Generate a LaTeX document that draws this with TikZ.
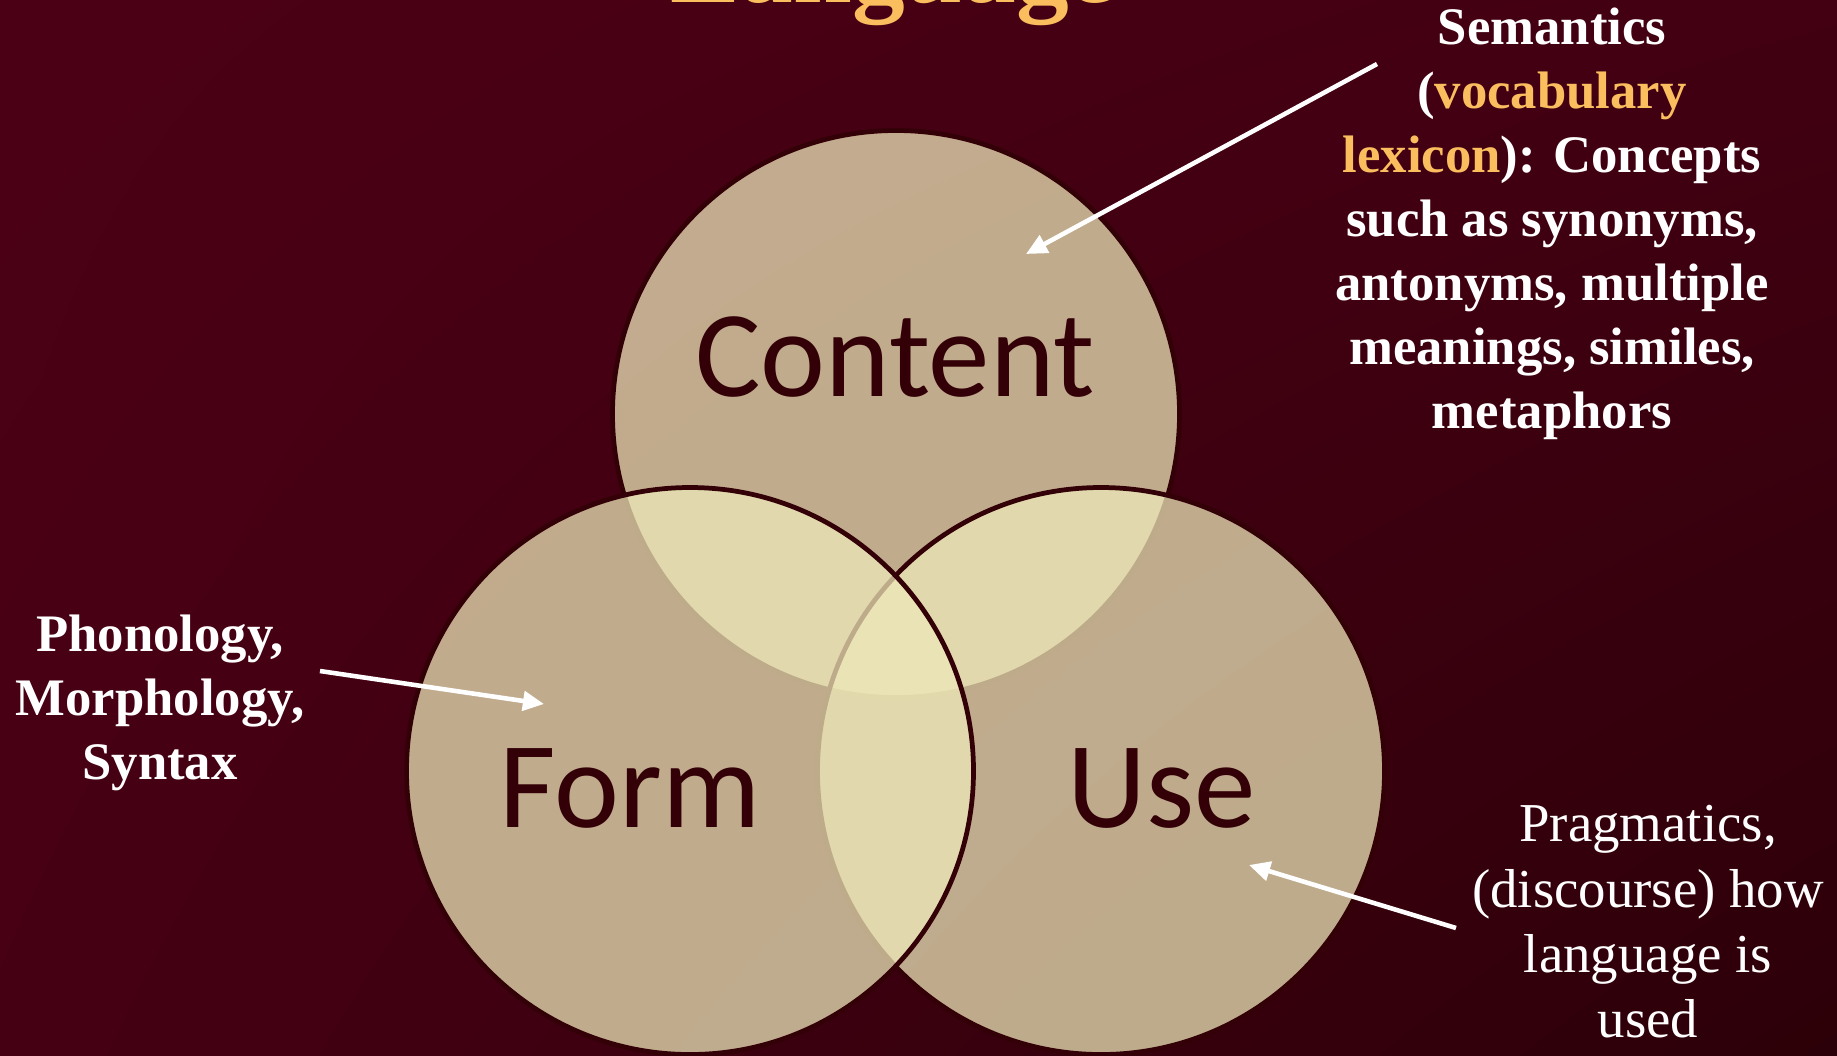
\documentclass[tikz,border=0pt]{standalone}
\usepackage{fontspec}
\setmainfont{Liberation Serif}
\newfontfamily\calibri{Carlito}
\usepackage{tikz}
\usetikzlibrary{arrows.meta,shadings}

\definecolor{bgtl}{RGB}{76,0,21}
\definecolor{bgtr}{RGB}{66,0,18}
\definecolor{bgbl}{RGB}{70,0,20}
\definecolor{bgbr}{RGB}{44,0,8}
\definecolor{ringfill}{RGB}{238,232,185}
\definecolor{ringline}{RGB}{50,0,6}
\definecolor{gold}{RGB}{250,190,95}

\tikzset{
  ring/.style={fill=ringfill, fill opacity=0.74, draw=ringline, line width=1.35pt},
  bigword/.style={font=\calibri\fontsize{35}{40}\selectfont, text=ringline, inner sep=0pt},
  note/.style={font=\bfseries\fontsize{15}{18.2}\selectfont, text=white, align=center, inner sep=0pt},
  pointer/.style={draw=white, line width=1.3pt, -{Triangle[length=6pt,width=5.5pt]}}
}

\begin{document}
\begin{tikzpicture}[x=0.1mm, y=-0.1mm]
   \clip (0,0) rectangle (1837,1055);
   \shade[upper left=bgtl, upper right=bgtr, lower left=bgbl, lower right=bgbr]
     (0,0) rectangle (1837,1055);

   % title, only its lower part fits on the page
   \node[font=\bfseries\fontsize{30}{36}\selectfont, text=gold, anchor=base, inner sep=0pt]
     (title) at (893,2) {Language};

   % the three rings: content first, then use, then form on top
   \draw[ring] (896,414) circle (283.5);
   \draw[ring] (1101,771) circle (283.5);
   \draw[ring] (690,771) circle (283.5);

   \node[bigword, anchor=base] (content) at (895,396) {Content};
   \node[bigword, anchor=base] (form) at (630,827) {Form};
   \node[bigword, anchor=base] (use) at (1162,827) {Use};

   % side notes
   \node[note] (semantics) at (1552,224)
     {Semantics\\({\color{gold}vocabulary}\\{\color{gold}lexicon}): Concepts\\such as synonyms,\\antonyms, multiple\\meanings, similes,\\metaphors};
   \node[note] (phonology) at (160,703) {Phonology,\\Morphology,\\Syntax};
   \node[note, font=\fontsize{15.6}{18.6}\selectfont] (pragmatics) at (1648,922)
     {Pragmatics,\\(discourse) how\\language is\\used};

   \coordinate (semtail) at (1377,64);
   \coordinate (semhead) at (1026,254);
   \coordinate (phontail) at (320,671);
   \coordinate (phonhead) at (544,704);
   \coordinate (pragtail) at (1456,928);
   \coordinate (praghead) at (1249,865);

   \draw[pointer] (semtail) -- (semhead);
   \draw[pointer] (phontail) -- (phonhead);
   \draw[pointer] (pragtail) -- (praghead);
\end{tikzpicture}
\end{document}
